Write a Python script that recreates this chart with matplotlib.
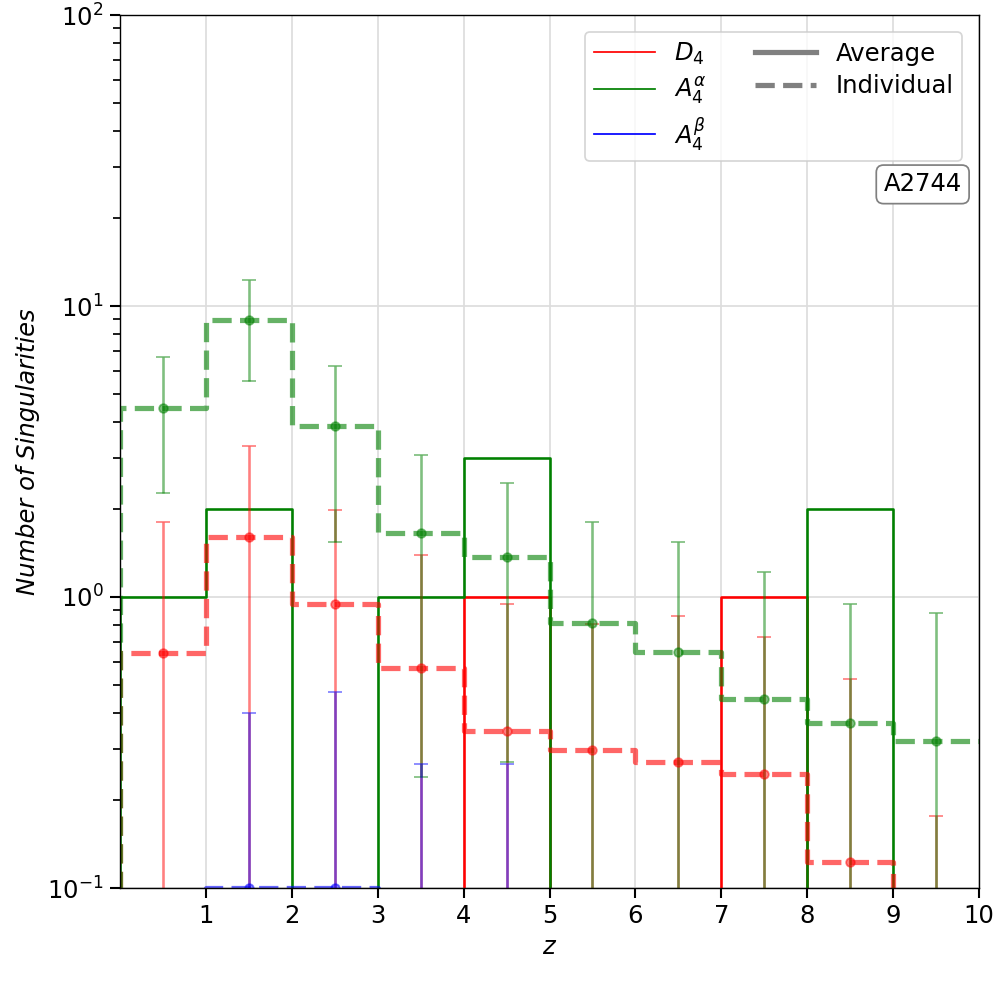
import numpy as np
import matplotlib
matplotlib.use("Agg")
import matplotlib.pyplot as plt
from matplotlib.lines import Line2D

# redshift bins
edges = np.arange(0, 11)
centers = edges[:-1] + 0.5

# average counts per bin
d4_avg = [0, 0, 0, 0, 1, 0, 0, 1, 0, 0]
a4a_avg = [1, 2, 0, 1, 3, 0, 0, 0, 2, 0]
a4b_avg = [0, 0, 0, 0, 0, 0, 0, 0, 0, 0]

# individual counts per bin with errors
d4_ind = [0.64, 1.61, 0.946, 0.57, 0.347, 0.298, 0.272, 0.247, 0.123, 0.067]
d4_err = [1.17, 1.69, 1.05, 0.82, 0.60, 0.51, 0.59, 0.48, 0.40, 0.11]
a4a_ind = [4.47, 8.93, 3.87, 1.66, 1.37, 0.816, 0.645, 0.447, 0.37, 0.321]
a4a_err = [2.2, 3.4, 2.33, 1.42, 1.10, 1.0, 0.9, 0.77, 0.575, 0.56]
a4b_ind = [0, 0.1, 0.1, 0.067, 0.067, 0, 0, 0, 0, 0]
a4b_err = [0, 0.3, 0.37, 0.2, 0.2, 0, 0, 0, 0, 0]

names = [r'$D_4$', r'$A_4^\alpha$', r'$A_4^\beta$']
colors = ['red', 'green', 'blue']
avgs = [d4_avg, a4a_avg, a4b_avg]
inds = [d4_ind, a4a_ind, a4b_ind]
errs = [d4_err, a4a_err, a4b_err]


def step_line(ax, vals, **kw):
    # rise from zero at the left edge, no drop at the right edge
    x = np.r_[edges[0], edges]
    y = np.r_[0, vals, vals[-1]]
    ax.step(x, y, where='post', **kw)


plt.rcParams['font.size'] = 14

fig, ax = plt.subplots(figsize=(8, 8), dpi=125)
fig.subplots_adjust(left=0.12, right=0.979, bottom=0.112, top=0.985)

# 1. averages (solid)
for a, c in zip(avgs, colors):
    step_line(ax, a, color=c, lw=1.5)

# 2. individuals (dashed) with error bars
for v, e, c in zip(inds, errs, colors):
    step_line(ax, v, color=c, lw=3, ls='--', alpha=0.6)
    ax.errorbar(centers, v, yerr=e, fmt='o', color=c, alpha=0.5,
                capsize=4, ms=5)

ax.set_yscale('log')
ax.set_xlim(0, 10)
ax.set_ylim(0.1, 100)
ax.set_xticks(range(1, 11))
ax.grid(True, which='major', color='#dddddd', lw=1)
ax.set_axisbelow(True)
ax.tick_params(which='major', length=6, width=1.2)
ax.tick_params(which='minor', length=4, width=1)

ax.set_xlabel(r'$z$')
ax.set_ylabel('Number of Singularities', fontstyle='italic')

# 3. legend
handles = [Line2D([], [], color=c, lw=1) for c in colors]
handles += [Line2D([], [], color='gray', lw=3),
            Line2D([], [], color='gray', lw=3, ls='--')]
labels = names + ['Average', 'Individual']
ax.legend(handles, labels, ncol=2, loc='upper right', handlelength=2.5,
          columnspacing=2.0, borderaxespad=0.7, labelspacing=0.35,
          borderpad=0.35)

ax.text(0.98, 0.806, 'A2744', transform=ax.transAxes, ha='right',
        va='center', bbox=dict(boxstyle='round', fc='white', ec='gray'))

plt.savefig('out.png', dpi=125)
